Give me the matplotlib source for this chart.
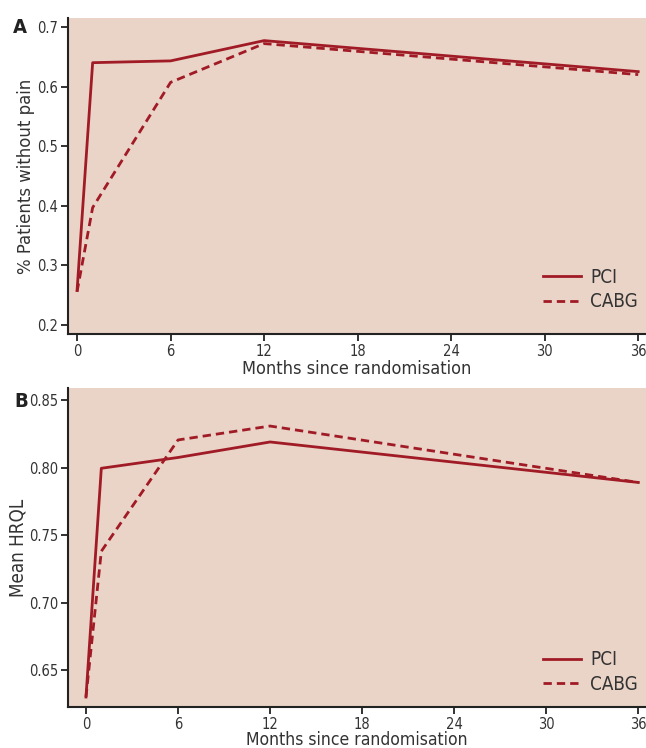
import matplotlib.pyplot as plt

# panel A: share of patients without angina
months_a = [0, 1, 6, 12, 36]
pci_pain = [0.258, 0.640, 0.643, 0.677, 0.625]
cabg_pain = [0.256, 0.397, 0.607, 0.672, 0.620]

# panel B: mean health-related quality of life
months_b = [0, 1, 6, 12, 36]
pci_hrql = [0.630, 0.7995, 0.8075, 0.819, 0.789]
cabg_hrql = [0.630, 0.738, 0.8205, 0.8308, 0.789]

x_ticks = [0, 6, 12, 18, 24, 30, 36]
yticks_a = [0.2, 0.3, 0.4, 0.5, 0.6, 0.7]
yticks_b = [0.65, 0.70, 0.75, 0.80, 0.85]

bg = '#EAD3C7'
red = '#A01B25'
txt = '#333333'

plt.rcParams['font.family'] = ['DejaVu Sans']
plt.rcParams['font.stretch'] = 'condensed'

fig = plt.figure(figsize=(6.46, 7.48), dpi=100)
ax_a = fig.add_axes([0.1053, 0.5535, 0.8947, 0.4225])
ax_b = fig.add_axes([0.1053, 0.0548, 0.8947, 0.4265])


def style(ax, yticks, yfmt, leg_y, xpad, xsize):
    ax.set_facecolor(bg)
    for s in ['top', 'right']:
        ax.spines[s].set_visible(False)
    for s in ['left', 'bottom']:
        ax.spines[s].set_linewidth(1.5)
        ax.spines[s].set_color('#222222')
    ax.set_xticks(x_ticks)
    ax.set_yticks(yticks)
    ax.set_yticklabels([yfmt.format(v) for v in yticks])
    ax.tick_params(direction='out', length=5, width=1.3, colors='#222222',
                   labelsize=10.5, labelcolor=txt, pad=2)
    ax.set_xlabel('Months since randomisation', fontsize=xsize, color=txt, labelpad=xpad)
    leg = ax.legend(loc='lower right', frameon=False, fontsize=13.5,
                    handlelength=2.0, handletextpad=0.5, labelspacing=0.3,
                    bbox_to_anchor=(1.015, leg_y))
    for t in leg.get_texts():
        t.set_color(txt)


ax_a.plot(months_a, pci_pain, color=red, lw=2.0, label='PCI')
ax_a.plot(months_a, cabg_pain, color=red, lw=2.0, ls=(0, (3, 1.8)), label='CABG')
ax_a.set_xlim(-0.58, 36.5)
ax_a.set_ylim(0.185, 0.715)
style(ax_a, yticks_a, '{:.1f}', 0.018, 1, 13)
ax_a.set_ylabel('% Patients without pain', fontsize=13.2, color=txt, labelpad=2)
fig.text(0.020, 1 - 33 / 748, 'A', fontsize=14.5, fontweight='bold',
         color='#222222', va='baseline')

ax_b.plot(months_b, pci_hrql, color=red, lw=2.0, label='PCI')
ax_b.plot(months_b, cabg_hrql, color=red, lw=2.0, ls=(0, (3, 1.8)), label='CABG')
ax_b.set_xlim(-1.17, 36.5)
ax_b.set_ylim(0.6226, 0.859)
style(ax_b, yticks_b, '{:.2f}', -0.012, -0.5, 12.6)
ax_b.set_ylabel('Mean HRQL', fontsize=13.5, color=txt, labelpad=1)
fig.text(0.022, 1 - 407 / 748, 'B', fontsize=14.5, fontweight='bold',
         color='#222222', va='baseline')

fig.savefig('out.png', dpi=100)
